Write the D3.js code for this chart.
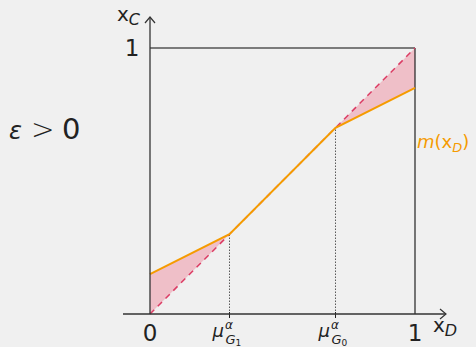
<!DOCTYPE html>
<html>
<head>
<meta charset="utf-8">
<script src="https://cdn.jsdelivr.net/npm/d3@7"></script>
<style>
  body { margin: 0; background: #f0f0f0; }
  svg { display: block; font-family: "DejaVu Sans", sans-serif; }
</style>
</head>
<body>
<svg id="chart" width="476" height="347"></svg>
<script>
// data
const mX = [0, 0.3, 0.7, 1];
const mY = [0.15, 0.3, 0.7, 0.85];
const diagX = [0, 1];
const diagY = [0, 1];
const muTicks = [0.3, 0.7];
const muLabels = ['1', '0'];

const svg = d3.select('#chart');
const x = d3.scaleLinear().domain([0, 1]).range([150, 415]);
const y = d3.scaleLinear().domain([0, 1]).range([314, 48]);

const mPts = mX.map((v, i) => [v, mY[i]]);
const diag = d3.scaleLinear().domain(diagX).range(diagY);

// shaded area between diagonal and m
const area = d3.area()
  .x(d => x(d[0]))
  .y0(d => y(diag(d[0])))
  .y1(d => y(d[1]));
svg.append('path')
  .datum(mPts)
  .attr('d', area)
  .attr('fill', '#efbfc8');

// frame
svg.append('line')
  .attr('x1', x(0)).attr('x2', x(1)).attr('y1', y(1)).attr('y2', y(1))
  .attr('stroke', '#555').attr('stroke-width', 1.5);
svg.append('line')
  .attr('x1', x(1)).attr('x2', x(1)).attr('y1', y(0)).attr('y2', y(1))
  .attr('stroke', '#222').attr('stroke-width', 1.2);

// dotted drops
muTicks.forEach(t => {
  const mv = d3.scaleLinear().domain(mX).range(mY)(t);
  svg.append('line')
    .attr('x1', x(t)).attr('x2', x(t)).attr('y1', y(0)).attr('y2', y(mv))
    .attr('stroke', '#333').attr('stroke-width', 0.8)
    .attr('stroke-dasharray', '1.5,1.5');
  svg.append('line')
    .attr('x1', x(t)).attr('x2', x(t)).attr('y1', y(0) - 2).attr('y2', y(0) + 4)
    .attr('stroke', '#222').attr('stroke-width', 1);
});

// diagonal dashed
svg.append('line')
  .attr('x1', x(diagX[0])).attr('y1', y(diagY[0]))
  .attr('x2', x(diagX[1])).attr('y2', y(diagY[1]))
  .attr('stroke', '#dc3c64').attr('stroke-width', 1.5)
  .attr('stroke-dasharray', '6,5');

// m(x_D)
svg.append('path')
  .datum(mPts)
  .attr('d', d3.line().x(d => x(d[0])).y(d => y(d[1])))
  .attr('fill', 'none')
  .attr('stroke', '#f59b00')
  .attr('stroke-width', 2);

// axes
svg.append('line')
  .attr('x1', 123).attr('x2', 446).attr('y1', y(0)).attr('y2', y(0))
  .attr('stroke', '#333').attr('stroke-width', 1.3);
svg.append('path')
  .attr('d', `M440,${y(0) - 5} L446,${y(0)} L440,${y(0) + 5}`)
  .attr('fill', 'none').attr('stroke', '#333').attr('stroke-width', 1.2);
svg.append('line')
  .attr('x1', x(0)).attr('x2', x(0)).attr('y1', y(0)).attr('y2', 17)
  .attr('stroke', '#333').attr('stroke-width', 1.3);
svg.append('path')
  .attr('d', `M${x(0) - 5},23 L${x(0)},17 L${x(0) + 5},23`)
  .attr('fill', 'none').attr('stroke', '#333').attr('stroke-width', 1.2);

// tick labels
svg.append('text').attr('x', x(0)).attr('y', 341)
  .attr('text-anchor', 'middle').attr('font-size', 23).attr('fill', '#222').text('0');
svg.append('text').attr('x', x(1)).attr('y', 341)
  .attr('text-anchor', 'middle').attr('font-size', 23).attr('fill', '#222').text('1');
svg.append('text').attr('x', 132).attr('y', y(1) + 8)
  .attr('text-anchor', 'middle').attr('font-size', 23).attr('fill', '#222').text('1');

muTicks.forEach((t, i) => {
  const g = svg.append('text').attr('x', x(t) - 17).attr('y', 337)
    .attr('font-size', 18).attr('fill', '#222');
  g.append('tspan').attr('font-style', 'italic').text('μ');
  g.append('tspan').attr('font-size', 12).attr('dy', -8).attr('dx', 1).attr('font-style', 'italic').text('α');
  const sub = svg.append('text').attr('x', x(t) - 4).attr('y', 344)
    .attr('font-size', 13).attr('fill', '#222');
  sub.append('tspan').attr('font-style', 'italic').text('G');
  sub.append('tspan').attr('font-size', 9).attr('dy', 2).text(muLabels[i]);
});

// axis titles
const xc = svg.append('text').attr('x', 117).attr('y', 21).attr('font-size', 20).attr('fill', '#222');
xc.append('tspan').text('x');
xc.append('tspan').attr('font-size', 16).attr('dy', 4).attr('font-style', 'italic').text('C');
const xd = svg.append('text').attr('x', 433).attr('y', 332).attr('font-size', 20).attr('fill', '#222');
xd.append('tspan').text('x');
xd.append('tspan').attr('font-size', 16).attr('dy', 4).attr('font-style', 'italic').text('D');

// curve label
const ml = svg.append('text').attr('x', 417).attr('y', 148).attr('font-size', 18).attr('fill', '#f59b00');
ml.append('tspan').attr('font-style', 'italic').text('m');
ml.append('tspan').text('(x');
ml.append('tspan').attr('font-size', 13).attr('dy', 4).attr('font-style', 'italic').text('D');
ml.append('tspan').attr('dy', -4).text(')');

// epsilon label
svg.append('text').attr('x', 9).attr('y', 139).attr('font-size', 24).attr('fill', '#222')
  .attr('font-style', 'italic').attr('font-weight', 300).text('ε');
svg.append('text').attr('x', 31).attr('y', 139).attr('font-size', 28).attr('fill', '#222')
  .attr('font-weight', 300).text('>');
svg.append('text').attr('x', 62).attr('y', 139).attr('font-size', 29).attr('fill', '#222').text('0');
</script>
</body>
</html>
